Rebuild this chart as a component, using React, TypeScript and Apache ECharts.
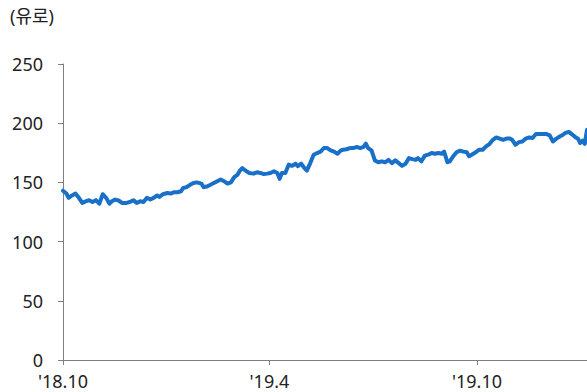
import React, { useEffect, useRef } from "react";
import * as echarts from "echarts";

const unitLabel = "(유로)";
const yTicks = [0, 50, 100, 150, 200, 250];
const xTickDates = ["2018-10-01", "2019-04-01", "2019-10-01"];
const xTickLabels = ["'18.10", "'19.4", "'19.10"];

const dates = [
  "2018-10-01", "2018-10-04", "2018-10-06", "2018-10-09", "2018-10-12", "2018-10-15", "2018-10-18", "2018-10-21",
  "2018-10-24", "2018-10-27", "2018-10-30", "2018-11-02", "2018-11-05", "2018-11-08", "2018-11-11", "2018-11-13",
  "2018-11-16", "2018-11-19", "2018-11-22", "2018-11-26", "2018-11-29", "2018-12-02", "2018-12-05", "2018-12-08",
  "2018-12-11", "2018-12-14", "2018-12-17", "2018-12-20", "2018-12-23", "2018-12-25", "2018-12-28", "2019-01-01",
  "2019-01-04", "2019-01-07", "2019-01-10", "2019-01-13", "2019-01-15", "2019-01-18", "2019-01-21", "2019-01-24",
  "2019-01-27", "2019-01-31", "2019-02-02", "2019-02-05", "2019-02-08", "2019-02-11", "2019-02-14", "2019-02-17",
  "2019-02-20", "2019-02-23", "2019-02-26", "2019-03-01", "2019-03-04", "2019-03-06", "2019-03-08", "2019-03-11",
  "2019-03-14", "2019-03-18", "2019-03-21", "2019-03-24", "2019-03-27", "2019-03-30", "2019-04-02", "2019-04-05",
  "2019-04-08", "2019-04-10", "2019-04-12", "2019-04-15", "2019-04-18", "2019-04-21", "2019-04-24", "2019-04-26",
  "2019-04-29", "2019-05-02", "2019-05-04", "2019-05-07", "2019-05-10", "2019-05-13", "2019-05-16", "2019-05-19",
  "2019-05-22", "2019-05-25", "2019-05-28", "2019-05-31", "2019-06-03", "2019-06-05", "2019-06-08", "2019-06-11",
  "2019-06-14", "2019-06-17", "2019-06-20", "2019-06-23", "2019-06-25", "2019-06-27", "2019-06-30", "2019-07-03",
  "2019-07-06", "2019-07-09", "2019-07-12", "2019-07-15", "2019-07-18", "2019-07-21", "2019-07-24", "2019-07-27",
  "2019-07-30", "2019-08-02", "2019-08-05", "2019-08-08", "2019-08-10", "2019-08-13", "2019-08-16", "2019-08-19",
  "2019-08-22", "2019-08-25", "2019-08-28", "2019-08-31", "2019-09-02", "2019-09-05", "2019-09-07", "2019-09-10",
  "2019-09-13", "2019-09-16", "2019-09-19", "2019-09-22", "2019-09-24", "2019-09-27", "2019-09-30", "2019-10-03",
  "2019-10-06", "2019-10-09", "2019-10-12", "2019-10-15", "2019-10-18", "2019-10-21", "2019-10-24", "2019-10-27",
  "2019-10-30", "2019-11-01", "2019-11-04", "2019-11-07", "2019-11-10", "2019-11-13", "2019-11-16", "2019-11-19",
  "2019-11-22", "2019-11-25", "2019-11-28", "2019-12-01", "2019-12-04", "2019-12-07", "2019-12-10", "2019-12-13",
  "2019-12-15", "2019-12-18", "2019-12-21", "2019-12-24", "2019-12-27", "2019-12-29", "2019-12-31", "2020-01-02",
  "2020-01-04", "2020-01-06",
];

const prices = [
  143, 140.6, 137, 139, 140.6, 137, 132.7, 134,
  135, 133.5, 135, 132, 140, 137, 132, 134,
  135.5, 134.7, 132.7, 132.7, 133.5, 135, 132.7, 134,
  133.5, 137, 135.5, 137, 139, 137.8, 140, 141,
  140.6, 141.7, 141.7, 142.5, 145.3, 146, 148, 149.5,
  150, 149, 146, 146.6, 148, 149.5, 151, 152.4,
  151, 149, 150, 154.5, 156.6, 160, 162, 160,
  158, 157.4, 158.5, 158, 157, 157.4, 158, 159.4,
  158, 153, 158, 158, 165, 164, 165.8, 163.7,
  165.8, 162, 160, 166.3, 173.4, 174.8, 176, 179,
  179, 177, 176, 174.2, 177, 177.6, 178, 179,
  179, 180, 179, 180, 182.7, 179, 177, 168.6,
  167, 167.8, 167, 169, 166.3, 168.6, 166.3, 164,
  165.8, 170.5, 169.7, 169, 170.5, 167.8, 172.6, 173.4,
  174.8, 174.2, 174.8, 174.2, 176, 167, 167.8, 172,
  175.5, 176.8, 176, 175.5, 172, 173.8, 175.5, 177.6,
  177.6, 180.4, 182.4, 186, 188, 187, 186, 187,
  187, 186, 181.8, 184, 184.6, 187, 188, 187.5,
  190.9, 190.9, 190.9, 190.9, 189.8, 184.6, 187, 188.8,
  189.8, 191.8, 192.6, 190.4, 188, 187, 183.3, 185.3,
  182.5, 194.5,
];

const xMin = "2018-10-01";
const xMax = "2020-01-06";

function toTs(s: string): number {
  const [y, m, d] = s.split("-").map(Number);
  return Date.UTC(y, m - 1, d);
}

const FONT = '"Noto Sans", "Noto Sans CJK KR", sans-serif';

export default function App() {
  const ref = useRef<HTMLDivElement>(null);
  useEffect(() => {
    if (!ref.current) return;
    const chart = echarts.init(ref.current, undefined, { renderer: "svg" });
    const tickTs = xTickDates.map(toTs);
    const labelFor = (v: number) => {
      let best = 0;
      let bd = Infinity;
      tickTs.forEach((t, i) => {
        const dd = Math.abs(t - v);
        if (dd < bd) { bd = dd; best = i; }
      });
      return xTickLabels[best];
    };
    chart.setOption({
      animation: false,
      textStyle: { fontFamily: FONT },
      grid: { left: 63, right: 0, top: 64, bottom: 32, containLabel: false },
      graphic: [
        {
          type: "text",
          left: 10,
          top: 7,
          style: { text: unitLabel, fontSize: 18, fill: "#222", fontFamily: FONT },
        },
      ],
      xAxis: {
        type: "value",
        min: toTs(xMin),
        max: toTs(xMax),
        axisLine: { show: true, lineStyle: { color: "#7f7f7f", width: 1 } },
        axisTick: { show: true, length: 5, customValues: tickTs, lineStyle: { color: "#7f7f7f" } },
        axisLabel: {
          customValues: tickTs,
          fontSize: 18,
          color: "#222",
          margin: 12,
          fontFamily: FONT,
          formatter: labelFor,
        },
        splitLine: { show: false },
      },
      yAxis: {
        type: "value",
        min: yTicks[0],
        max: yTicks[yTicks.length - 1],
        interval: 50,
        axisLine: { show: true, lineStyle: { color: "#7f7f7f", width: 1 } },
        axisTick: { show: true, length: 5, lineStyle: { color: "#7f7f7f" } },
        axisLabel: { fontSize: 18, color: "#222", margin: 20, fontFamily: FONT },
        splitLine: { show: false },
      },
      series: [
        {
          type: "line",
          data: dates.map((d, i) => [toTs(d), prices[i]]),
          showSymbol: false,
          symbol: "none",
          lineStyle: { color: "#1870c8", width: 4, join: "round", cap: "round" },
          itemStyle: { color: "#1870c8" },
          clip: false,
        },
      ],
    });
    return () => chart.dispose();
  }, []);
  return <div ref={ref} style={{ width: 587, height: 392, position: "absolute", left: 0, top: 0 }} />;
}
